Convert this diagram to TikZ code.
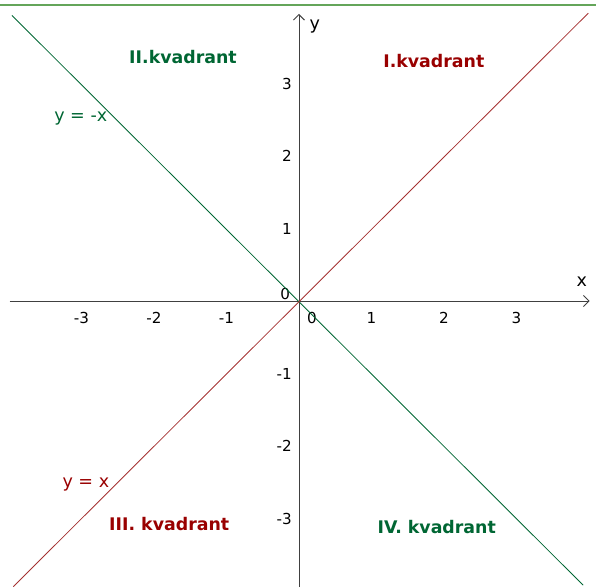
\documentclass[tikz,border=0pt]{standalone}
\usepackage{fontspec}
\setmainfont{DejaVu Sans}
\usetikzlibrary{arrows.meta, positioning, calc}
\definecolor{kgreen}{RGB}{0,102,51}
\definecolor{kred}{RGB}{153,0,0}
\definecolor{lred}{RGB}{165,50,50}
\definecolor{topgreen}{RGB}{100,165,90}

\begin{document}
\begin{tikzpicture}[
  x=0.8cm/0.58, y=0.8cm/0.58,
  axis/.style={-{Straight Barb[length=3pt,width=6pt]}, line width=0.5pt, black!75},
  tick/.style={font=\fontsize{8.2}{9}\selectfont, inner sep=1pt},
  quad/.style={font=\bfseries\fontsize{9.4}{10}\selectfont, inner sep=1pt},
  fn/.style={font=\fontsize{9.5}{10}\selectfont, inner sep=1pt}
]
\useasboundingbox (-4.124,-3.945) rectangle (4.097,4.152);
\draw[topgreen, line width=0.6pt] (-4.124,4.083) -- (4.097,4.083);

% axes
\coordinate (xl) at (-3.99,0);
\coordinate (xr) at (4.01,0);
\coordinate (yb) at (0,-3.945);
\coordinate (yt) at (0,3.96);
\draw[axis] (xl) -- (xr);
\draw[axis] (yb) -- (yt);
\node[fn] (xlab) at (3.90,0.27) {x};
\node[fn] (ylab) at (0.22,3.79) {y};

% ticks
\foreach \i in {-3,-2,-1,1,2,3} {
  \node[tick] (xt\i) at (\i,-0.23) {\i};
}
\foreach \i in {-3,-2,-1,1,2,3} {
  \node[tick, anchor=east] (yt\i) at (-0.07,\i) {\i};
}
\node[tick] (o1) at (-0.19,0.09) {0};
\node[tick] (o2) at (0.18,-0.23) {0};

% lines
\coordinate (a1) at (-3.96,3.94);
\coordinate (a2) at (3.92,-3.92);
\coordinate (b1) at (-3.94,-3.94);
\coordinate (b2) at (3.99,3.97);
\draw[kgreen, line width=0.45pt] (a1) -- (a2);
\draw[lred, line width=0.45pt] (b1) -- (b2);
\node[fn, text=kgreen] (f2) at (-3.01,2.52) {y = -x};
\node[fn, text=kred] (f1) at (-2.94,-2.53) {y = x};

% quadrants
\node[quad, text=kgreen] (q2) at (-1.60,3.365) {II.kvadrant};
\node[quad, text=kred] (q1) at (1.86,3.31) {I.kvadrant};
\node[quad, text=kred] (q3) at (-1.79,-3.08) {III. kvadrant};
\node[quad, text=kgreen] (q4) at (1.90,-3.12) {IV. kvadrant};
\end{tikzpicture}
\end{document}
